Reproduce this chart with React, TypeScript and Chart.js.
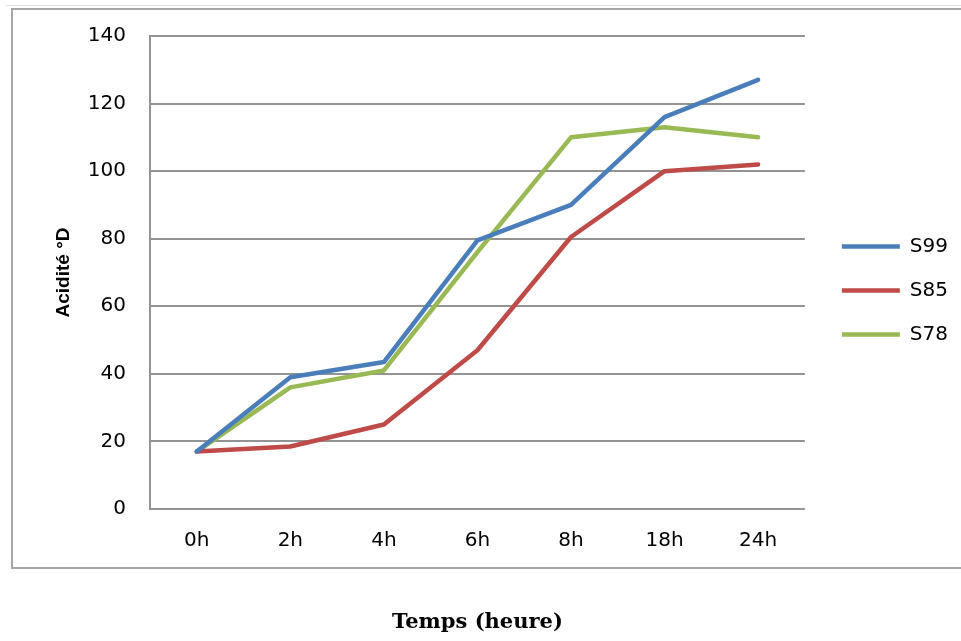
import React, { useEffect, useRef } from "react";
import { Chart, registerables } from "chart.js";

Chart.register(...registerables);

const categories = ["0h", "2h", "4h", "6h", "8h", "18h", "24h"];
const seriesNames = ["S99", "S85", "S78"];
const s99 = [17, 39, 43.5, 79.5, 90, 116, 127];
const s85 = [17, 18.5, 25, 47, 80.5, 100, 102];
const s78 = [17, 36, 41, 76, 110, 113, 110];
const seriesColors = ["#4A7EBB", "#BE4B48", "#98B954"];
const yTitle = "Acidité °D";
const xTitle = "Temps (heure)";

const legendShift = {
  id: "legendShift",
  afterLayout(chart: any) {
    const l = chart.legend;
    if (!l) return;
    l.left += 13;
    l.right += 13;
    l.top += 18;
    l.bottom += 18;
  },
};

export default function App() {
  const canvasRef = useRef<HTMLCanvasElement | null>(null);

  useEffect(() => {
    const canvas = canvasRef.current;
    if (!canvas) return;
    const seriesValues = [s99, s85, s78];
    const chart = new Chart(canvas, {
      type: "line",
      data: {
        labels: categories,
        datasets: seriesNames.map((name, i) => ({
          label: name,
          data: seriesValues[i],
          borderColor: seriesColors[i],
          backgroundColor: seriesColors[i],
          borderWidth: 4.5,
          pointRadius: 0,
          pointHoverRadius: 0,
          tension: 0,
          borderCapStyle: "round" as const,
          borderJoinStyle: "round" as const,
          pointStyle: "line" as const,
        })),
      },
      plugins: [legendShift],
      options: {
        animation: false,
        responsive: false,
        maintainAspectRatio: false,
        devicePixelRatio: 1,
        layout: { padding: { top: 34, bottom: 0, left: 0, right: 16 } },
        plugins: {
          tooltip: { enabled: false },
          title: { display: false },
          legend: {
            display: true,
            position: "right",
            fullSize: false,
            labels: {
              usePointStyle: true,
              pointStyleWidth: 58,
              padding: 24,
              color: "#000000",
              font: { family: "'DejaVu Sans'", size: 20 },
            },
          },
        },
        scales: {
          x: {
            type: "category",
            offset: true,
            grid: { display: false, drawTicks: false },
            border: { display: false },
            ticks: {
              padding: 20,
              color: "#000000",
              font: { family: "'DejaVu Sans'", size: 20 },
              maxRotation: 0,
            },
            title: {
              display: true,
              text: xTitle,
              color: "#000000",
              font: { family: "'DejaVu Serif'", size: 21, weight: "bold" },
              padding: { top: 0, bottom: 6 },
            },
            afterFit: (scale: any) => {
              scale.height = 132;
            },
          },
          y: {
            min: 0,
            max: 140,
            ticks: {
              stepSize: 20,
              padding: 24,
              color: "#000000",
              font: { family: "'DejaVu Sans'", size: 20 },
            },
            grid: { color: "#939393", lineWidth: 2, drawTicks: false },
            border: { display: true, color: "#939393", width: 2 },
            title: {
              display: true,
              text: yTitle,
              color: "#000000",
              font: { family: "'Liberation Sans'", size: 19, weight: "bold" },
              padding: { top: 52, bottom: 0 },
            },
            afterFit: (scale: any) => {
              scale.width = 150;
            },
          },
        },
      },
    });
    return () => chart.destroy();
  }, []);

  return (
    <div style={{ position: "fixed", left: 0, top: 0, width: 961, height: 641, background: "#ffffff" }}>
      <div
        style={{
          position: "absolute",
          left: 6,
          top: 5,
          width: 955,
          height: 0,
          borderTop: "1px solid #dfe3f0",
        }}
      />
      <div
        style={{
          position: "absolute",
          left: 11,
          top: 8,
          width: 960,
          height: 561,
          border: "2px solid #a6a6a6",
          boxSizing: "border-box",
        }}
      />
      <canvas
        ref={canvasRef}
        width={961}
        height={641}
        style={{ position: "absolute", left: 0, top: 0, width: 961, height: 641 }}
      />
    </div>
  );
}
